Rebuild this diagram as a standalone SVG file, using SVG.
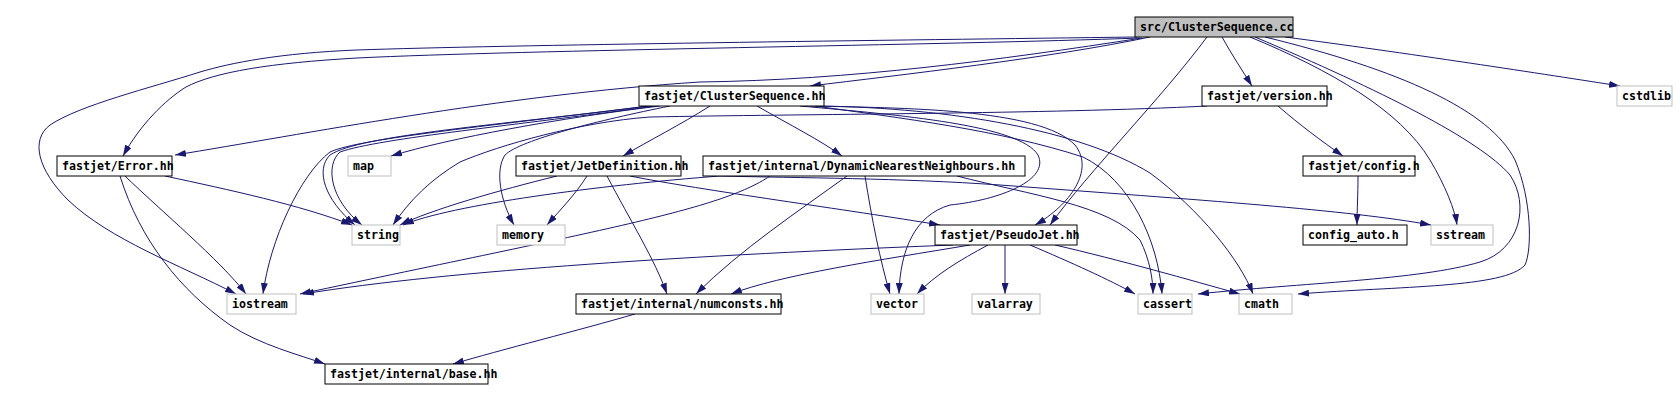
<svg xmlns="http://www.w3.org/2000/svg" width="1676" height="401" viewBox="0 0 1676 401">
<defs>
<marker id="ah" viewBox="0 0 11 7" markerWidth="11" markerHeight="7" refX="11" refY="3.5" markerUnits="userSpaceOnUse" orient="auto">
<path d="M0,0 L11,3.5 L0,7 z" fill="#191970"/>
</marker>
<style>
.n rect{fill:#fff;stroke:#000;stroke-width:1}
.g rect{fill:#fff;stroke:#bfbfbf;stroke-width:1}
.s rect{fill:#bfbfbf;stroke:#000;stroke-width:1}
text{font-family:"DejaVu Sans Mono","Liberation Mono",monospace;font-size:11.6px;font-weight:bold;fill:#000}
#edges path{fill:none;stroke:#191970;stroke-width:1;marker-end:url(#ah)}
</style>
</defs>
<rect width="1676" height="401" fill="#fff"/>
<g id="edges">
<path d="M1150,37 C1050,58 900,75 810,86"/>
<path d="M1222,37 C1232,55 1242,70 1252,86"/>
<path d="M1285,37 C1400,52 1550,75 1620,86"/>
<path d="M1207,37 C1160,100 1090,170 1050,225"/>
<path d="M1140,38 C950,45 520,50 357,58 C270,63 215,72 186,87 C165,100 140,125 123,156"/>
<path d="M1137,37 C900,40 500,45 357,50 C280,53 230,63 200,72 C150,88 80,105 50,125 C30,140 38,170 68,200 C110,240 180,265 236,294"/>
<path d="M1142,38 C1000,60 850,80 700,82 C500,95 300,135 175,155"/>
<path d="M1250,37 C1330,70 1400,110 1430,160 C1445,185 1455,210 1457,225"/>
<path d="M1255,37 C1380,90 1480,140 1510,175 C1530,205 1520,250 1480,262 C1420,280 1300,283 1198,294"/>
<path d="M1265,37 C1400,70 1490,110 1515,160 C1532,200 1532,250 1525,265 C1505,288 1400,286 1298,294"/>
<path d="M1278,106 C1300,125 1320,140 1343,156"/>
<path d="M1207,106 C1050,114 800,114 650,117 C580,122 500,145 460,162 C430,180 410,200 393,225"/>
<path d="M1358,176 C1358,195 1357,210 1357,225"/>
<path d="M660,106 C560,118 450,138 391,156"/>
<path d="M710,106 C680,125 650,140 623,156"/>
<path d="M757,106 C790,125 820,140 842,156"/>
<path d="M650,106 C500,125 360,135 330,155 C315,170 325,200 355,225"/>
<path d="M655,106 C520,125 380,138 340,152 C325,165 330,200 362,225"/>
<path d="M648,106 C500,125 360,138 330,152 C300,175 270,240 263,294"/>
<path d="M670,106 C600,120 520,140 505,155 C495,170 500,200 514,225"/>
<path d="M810,106 C900,108 1040,108 1075,145 C1095,170 1070,205 1035,225"/>
<path d="M800,106 C900,115 1020,125 1038,155 C1050,180 1000,200 950,205 C915,215 900,250 899,294"/>
<path d="M815,106 C900,118 1000,130 1083,157 C1130,180 1158,240 1162,294"/>
<path d="M820,106 C950,108 1080,130 1150,173 C1200,210 1240,260 1253,294"/>
<path d="M165,176 C230,190 300,205 352,225"/>
<path d="M125,176 C160,210 220,260 246,294"/>
<path d="M120,176 C140,240 180,290 230,325 C260,345 300,355 325,364"/>
<path d="M557,176 C500,190 430,210 400,225"/>
<path d="M587,176 C575,195 560,210 547,225"/>
<path d="M607,176 C630,220 655,260 667,294"/>
<path d="M630,176 C700,190 850,210 940,225"/>
<path d="M953,245 C700,255 450,270 303,294"/>
<path d="M970,245 C880,260 780,275 731,294"/>
<path d="M988,245 C960,260 935,275 917,294"/>
<path d="M1005,245 L1005,294"/>
<path d="M1030,245 C1070,262 1110,280 1135,294"/>
<path d="M1055,245 C1120,260 1190,280 1240,294"/>
<path d="M770,176 C720,210 600,230 300,294"/>
<path d="M847,176 C800,210 740,250 696,294"/>
<path d="M865,176 C872,220 880,260 890,294"/>
<path d="M957,176 C1030,195 1110,205 1140,240 C1150,260 1153,280 1153,294"/>
<path d="M720,176 C600,185 450,205 403,225"/>
<path d="M720,176 C800,178 900,178 1000,185 C1200,200 1350,210 1431,225"/>
<path d="M635,314 C580,330 500,350 453,364"/>
</g>
<g id="n_src" class="s"><rect x="1135" y="17" width="158" height="20"/><text x="1140" y="31">src/ClusterSequence.cc</text></g>
<g id="n_cs" class="n"><rect x="639" y="86" width="185" height="20"/><text x="644" y="100">fastjet/ClusterSequence.hh</text></g>
<g id="n_ver" class="n"><rect x="1202" y="86" width="125" height="20"/><text x="1207" y="100">fastjet/version.hh</text></g>
<g id="n_cstdlib" class="g"><rect x="1617" y="86" width="55" height="20"/><text x="1622" y="100">cstdlib</text></g>
<g id="n_err" class="n"><rect x="57" y="156" width="115" height="20"/><text x="62" y="170">fastjet/Error.hh</text></g>
<g id="n_map" class="g"><rect x="348" y="156" width="43" height="20"/><text x="353" y="170">map</text></g>
<g id="n_jd" class="n"><rect x="516" y="156" width="165" height="20"/><text x="521" y="170">fastjet/JetDefinition.hh</text></g>
<g id="n_dnn" class="n"><rect x="703" y="156" width="322" height="20"/><text x="708" y="170">fastjet/internal/DynamicNearestNeighbours.hh</text></g>
<g id="n_cfg" class="n"><rect x="1303" y="156" width="112" height="20"/><text x="1308" y="170">fastjet/config.h</text></g>
<g id="n_string" class="g"><rect x="352" y="225" width="48" height="20"/><text x="357" y="239">string</text></g>
<g id="n_memory" class="g"><rect x="497" y="225" width="68" height="20"/><text x="502" y="239">memory</text></g>
<g id="n_pj" class="n"><rect x="935" y="225" width="142" height="20"/><text x="940" y="239">fastjet/PseudoJet.hh</text></g>
<g id="n_cauto" class="n"><rect x="1303" y="225" width="104" height="20"/><text x="1308" y="239">config_auto.h</text></g>
<g id="n_sstream" class="g"><rect x="1431" y="225" width="62" height="20"/><text x="1436" y="239">sstream</text></g>
<g id="n_iostream" class="g"><rect x="227" y="294" width="69" height="20"/><text x="232" y="308">iostream</text></g>
<g id="n_numc" class="n"><rect x="576" y="294" width="205" height="20"/><text x="581" y="308">fastjet/internal/numconsts.hh</text></g>
<g id="n_vector" class="g"><rect x="871" y="294" width="53" height="20"/><text x="876" y="308">vector</text></g>
<g id="n_valarray" class="g"><rect x="972" y="294" width="68" height="20"/><text x="977" y="308">valarray</text></g>
<g id="n_cassert" class="g"><rect x="1138" y="294" width="54" height="20"/><text x="1143" y="308">cassert</text></g>
<g id="n_cmath" class="g"><rect x="1239" y="294" width="53" height="20"/><text x="1244" y="308">cmath</text></g>
<g id="n_base" class="n"><rect x="325" y="364" width="163" height="20"/><text x="330" y="378">fastjet/internal/base.hh</text></g>
</svg>
